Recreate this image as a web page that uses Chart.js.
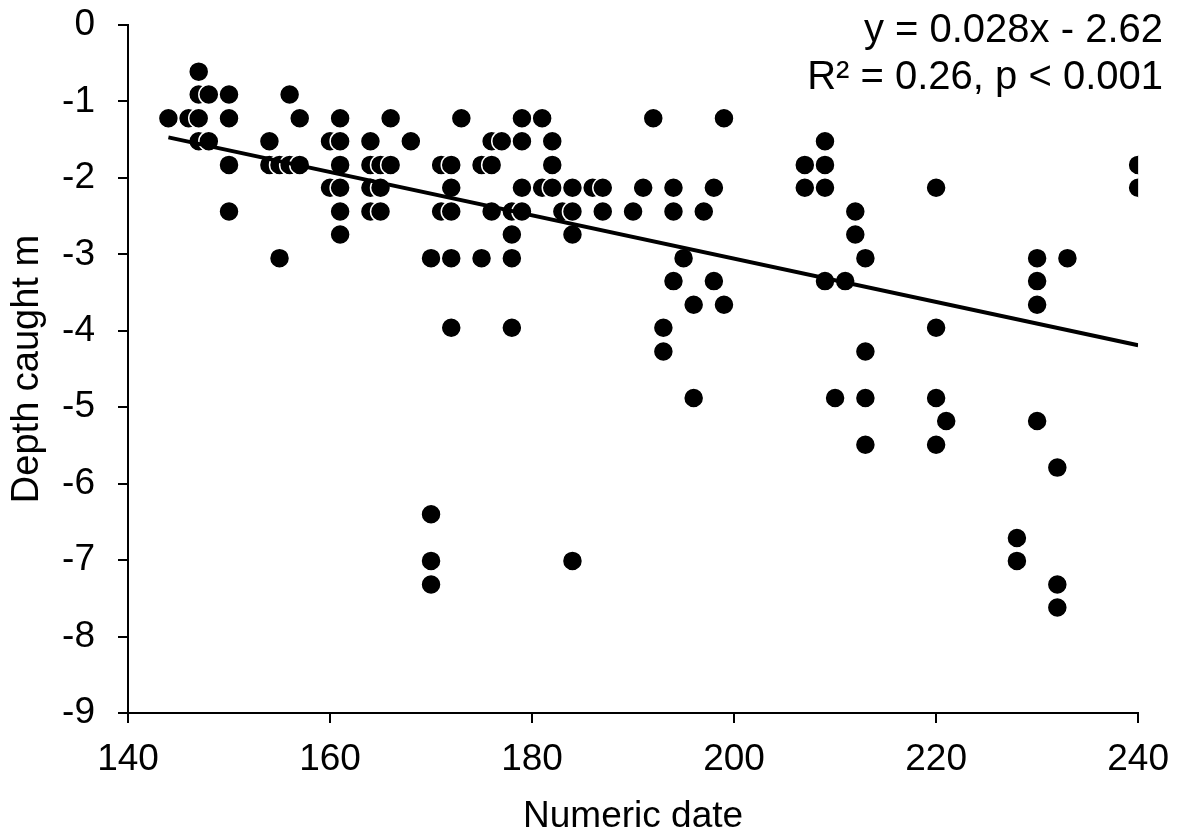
<!DOCTYPE html>
<html>
<head>
<meta charset="utf-8">
<script src="https://cdn.jsdelivr.net/npm/chart.js@4.4.1/dist/chart.umd.min.js"></script>
<style>
    body { margin: 0; background: #fff; }
    #wrap { width: 1184px; height: 835px; }
</style>
</head>
<body>
<div id="wrap"><canvas id="depthChart" width="1184" height="835"></canvas></div>
<script>
// Numeric date vs depth caught (m)
const dates = [
    144, 146, 147, 147, 147, 147, 148, 148, 150, 150, 150, 150,
    154, 154, 155, 155, 156, 156, 157, 157, 160, 160,
    161, 161, 161, 161, 161, 161, 164, 164, 164, 164, 165, 165, 165, 166, 166, 168,
    170, 170, 170, 170, 171, 171, 172, 172, 172, 172, 172, 173,
    175, 175, 176, 176, 176, 177, 178, 178, 178, 178, 179, 179, 179, 179,
    181, 181, 182, 182, 182, 183, 184, 184, 184, 184, 186, 187, 187,
    190, 191, 192, 193, 193, 194, 194, 194, 195, 196, 196, 197, 198, 198, 199, 199,
    207, 207, 209, 209, 209, 209, 210, 211, 212, 212, 213, 213, 213, 213,
    220, 220, 220, 220, 221, 228, 228, 230, 230, 230, 230, 232, 232, 232, 233, 240, 240
];
const depths = [
    -1.22, -1.22, -0.61, -0.91, -1.22, -1.52, -0.91, -1.52, -0.91, -1.22, -1.83, -2.44,
    -1.52, -1.83, -1.83, -3.05, -0.91, -1.83, -1.22, -1.83, -1.52, -2.13,
    -1.22, -1.52, -1.83, -2.13, -2.44, -2.74, -1.52, -1.83, -2.13, -2.44, -1.83, -2.13, -2.44, -1.22, -1.83, -1.52,
    -3.05, -6.40, -7.01, -7.32, -1.83, -2.44, -1.83, -2.13, -2.44, -3.05, -3.96, -1.22,
    -1.83, -3.05, -1.52, -1.83, -2.44, -1.52, -2.44, -2.74, -3.05, -3.96, -1.22, -1.52, -2.13, -2.44,
    -1.22, -2.13, -1.52, -1.83, -2.13, -2.44, -2.13, -2.44, -2.74, -7.01, -2.13, -2.13, -2.44,
    -2.44, -2.13, -1.22, -3.96, -4.27, -2.13, -2.44, -3.35, -3.05, -3.66, -4.88, -2.44, -2.13, -3.35, -1.22, -3.66,
    -1.83, -2.13, -1.52, -1.83, -2.13, -3.35, -4.88, -3.35, -2.44, -2.74, -3.05, -4.27, -4.88, -5.49,
    -2.13, -3.96, -4.88, -5.49, -5.18, -6.71, -7.01, -3.05, -3.35, -3.66, -5.18, -5.79, -7.32, -7.62, -3.05, -1.83, -2.13
];

// trendline end points
const trendX = [144, 240];
const trendY = [-1.47, -4.19];

const fitLabel = ['y = 0.028x - 2.62', 'R\u00b2 = 0.26, p < 0.001'];

const FONT = '"Liberation Sans", Arial, sans-serif';

// draws the equation text in the top right corner
const fitText = {
    id: 'fitText',
    afterDraw(chart) {
        const ctx = chart.ctx;
        ctx.save();
        ctx.font = '40px ' + FONT;
        ctx.fillStyle = '#000';
        ctx.textAlign = 'right';
        ctx.textBaseline = 'middle';
        ctx.fillText(fitLabel[0], 1163, 31);
        ctx.fillText(fitLabel[1], 1163, 78);
        ctx.restore();
    }
};

document.addEventListener('DOMContentLoaded', function() {
    const ctx = document.getElementById('depthChart').getContext('2d');
    new Chart(ctx, {
        type: 'scatter',
        data: {
            datasets: [{
                type: 'line',
                data: trendX.map((x, i) => ({ x: x, y: trendY[i] })),
                borderColor: '#000',
                borderWidth: 4,
                pointRadius: 0,
                fill: false,
                order: 0
            }, {
                data: dates.map((x, i) => ({ x: x, y: depths[i] })),
                backgroundColor: '#000',
                borderColor: '#fff',
                borderWidth: 1.5,
                pointRadius: 10,
                pointHoverRadius: 10,
                order: 1
            }]
        },
        options: {
            responsive: false,
            animation: false,
            events: [],
            layout: {
                padding: { top: 25, right: 44, left: 0, bottom: 0 }
            },
            plugins: {
                legend: { display: false },
                tooltip: { enabled: false }
            },
            scales: {
                x: {
                    type: 'linear',
                    min: 140,
                    max: 240,
                    afterFit: function(scale) { scale.height = 122; },
                    ticks: {
                        stepSize: 20,
                        color: '#000',
                        padding: 15,
                        font: { family: FONT, size: 37 }
                    },
                    grid: {
                        drawOnChartArea: false,
                        drawTicks: true,
                        tickLength: 10,
                        color: '#000',
                        lineWidth: 2
                    },
                    border: { display: true, color: '#000', width: 2 },
                    title: {
                        display: true,
                        text: 'Numeric date',
                        color: '#000',
                        padding: { top: 0, bottom: -4 },
                        font: { family: FONT, size: 37 }
                    }
                },
                y: {
                    type: 'linear',
                    min: -9,
                    max: 0,
                    afterFit: function(scale) {
                        scale.width = 128;
                        // keep the label padding from pushing the plot area down
                        scale.paddingTop = 20;
                        scale.paddingBottom = 20;
                    },
                    ticks: {
                        stepSize: 1,
                        color: '#000',
                        padding: 23,
                        font: { family: FONT, size: 37 }
                    },
                    grid: {
                        drawOnChartArea: false,
                        drawTicks: true,
                        tickLength: 10,
                        color: '#000',
                        lineWidth: 2
                    },
                    border: { display: true, color: '#000', width: 2 },
                    title: {
                        display: true,
                        text: 'Depth caught m',
                        color: '#000',
                        padding: { top: 5, bottom: 0 },
                        font: { family: FONT, size: 38 }
                    }
                }
            }
        },
        plugins: [fitText]
    });
});
</script>
</body>
</html>
